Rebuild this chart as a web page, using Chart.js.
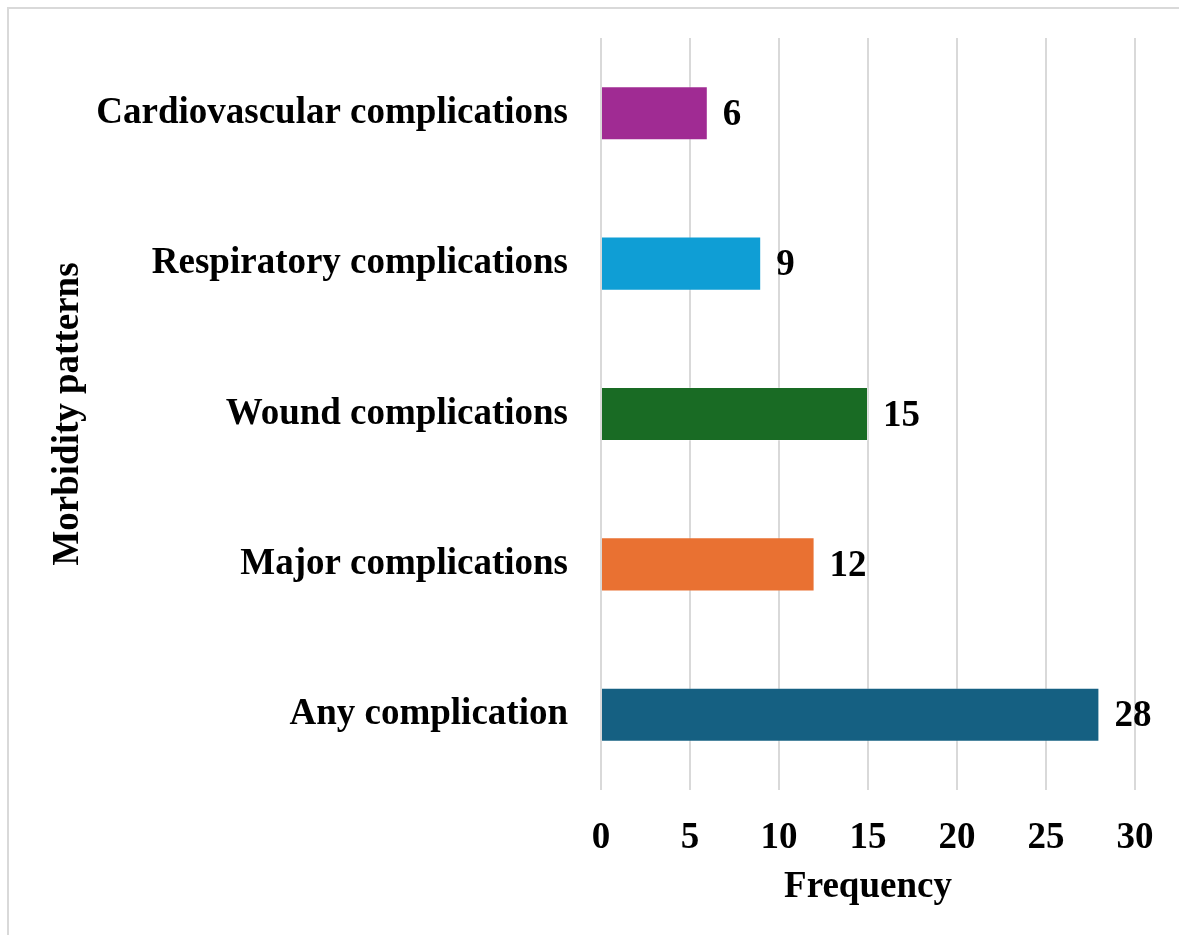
<!DOCTYPE html>
<html>
<head>
    <meta charset="UTF-8">
    <title>Morbidity patterns</title>
    <script src="https://cdn.jsdelivr.net/npm/chart.js@4"></script>
    <style>
        html, body { margin: 0; padding: 0; background: #fff; }
        #wrap { position: relative; width: 1179px; height: 935px; }
    </style>
</head>
<body>
    <div id="wrap">
        <canvas id="morbChart" width="1179" height="935"></canvas>
    </div>
    <script>
        // data
        const categories = [
            'Cardiovascular complications',
            'Respiratory complications',
            'Wound complications',
            'Major complications',
            'Any complication'
        ];
        const frequency = [6, 9, 15, 12, 28];
        const barColors = ['#A02B93', '#0F9ED5', '#196B24', '#E97132', '#156082'];
        const xTicks = [0, 5, 10, 15, 20, 25, 30];

        const fontFamily = '"Liberation Serif", "Times New Roman", serif';
        const bold37 = { family: fontFamily, size: 37, weight: 'bold' };

        // frame lines (top and left edges of the chart box)
        const framePlugin = {
            id: 'frame',
            beforeDraw(chart) {
                const ctx = chart.ctx;
                ctx.save();
                ctx.fillStyle = '#fff';
                ctx.fillRect(0, 0, chart.width, chart.height);
                ctx.fillStyle = '#d9d9d9';
                ctx.fillRect(7, 7, chart.width - 7, 2);
                ctx.fillRect(7, 7, 2, chart.height - 7);
                ctx.restore();
            }
        };

        // value labels at the end of each bar
        const valueLabels = {
            id: 'valueLabels',
            afterDatasetsDraw(chart) {
                const ctx = chart.ctx;
                const meta = chart.getDatasetMeta(0);
                ctx.save();
                ctx.font = 'bold 37px ' + fontFamily;
                ctx.fillStyle = '#000';
                ctx.textAlign = 'left';
                ctx.textBaseline = 'middle';
                meta.data.forEach((bar, i) => {
                    ctx.fillText(String(frequency[i]), bar.x + 15, bar.y + 2);
                });
                ctx.restore();
            }
        };

        new Chart(document.getElementById('morbChart'), {
            type: 'bar',
            data: {
                labels: categories,
                datasets: [{
                    label: 'Frequency',
                    data: frequency,
                    backgroundColor: barColors,
                    borderColor: 'rgba(255,255,255,0.25)',
                    borderWidth: 1,
                    barPercentage: 0.36,
                    categoryPercentage: 1
                }]
            },
            options: {
                indexAxis: 'y',
                responsive: false,
                animation: false,
                layout: { padding: { left: 0, top: 38, right: 44, bottom: 0 } },
                plugins: {
                    legend: { display: false },
                    tooltip: { enabled: false }
                },
                scales: {
                    x: {
                        min: 0,
                        max: 30,
                        afterBuildTicks(scale) {
                            scale.ticks = xTicks.map(v => ({ value: v }));
                        },
                        afterFit(scale) {
                            scale.height = 145;
                            scale.paddingLeft = 0;
                            scale.paddingRight = 0;
                        },
                        grid: { color: '#d9d9d9', lineWidth: 2, drawTicks: false },
                        border: { display: false },
                        ticks: { color: '#000', font: bold37, padding: 26 },
                        title: {
                            display: true,
                            text: 'Frequency',
                            color: '#000',
                            font: bold37,
                            padding: { top: 0, bottom: 25 }
                        }
                    },
                    y: {
                        afterFit(scale) {
                            scale.width = 601;
                            scale.paddingTop = 0;
                            scale.paddingBottom = 0;
                        },
                        grid: { display: false },
                        border: { display: false },
                        ticks: { color: '#000', font: bold37, padding: 25 },
                        title: {
                            display: true,
                            text: 'Morbidity patterns',
                            color: '#000',
                            font: bold37,
                            padding: { top: 46, bottom: 0 }
                        }
                    }
                }
            },
            plugins: [framePlugin, valueLabels]
        });
    </script>
</body>
</html>
